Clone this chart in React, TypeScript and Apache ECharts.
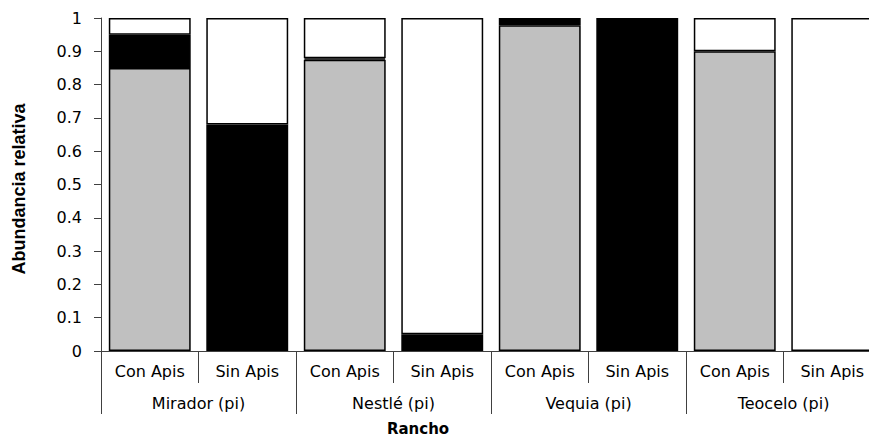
import React, { useEffect, useRef } from "react";
import * as echarts from "echarts";

const categories = [
  "Con Apis", "Sin Apis",
  "Con Apis", "Sin Apis",
  "Con Apis", "Sin Apis",
  "Con Apis", "Sin Apis",
];
const ranchos = ["Mirador (pi)", "Nestlé (pi)", "Vequia (pi)", "Teocelo (pi)"];

const grisValues = [0.85, 0, 0.875, 0, 0.978, 0, 0.9, 0];
const negroValues = [0.1, 0.68, 0.004, 0.05, 0.022, 1.0, 0, 0];
const blancoValues = [0.05, 0.32, 0.121, 0.95, 0, 0, 0.1, 1.0];

const yAxisTitle = "Abundancia relativa";
const xAxisTitle = "Rancho";

const noZero = (arr: number[]) => arr.map((v) => (v === 0 ? "-" : v));

export default function App() {
  const ref = useRef<HTMLDivElement>(null);

  useEffect(() => {
    if (!ref.current) return;
    const chart = echarts.init(ref.current, undefined, { renderer: "svg" });
    const axisColor = "#404040";
    const font = "DejaVu Sans";
    const barStyle = (color: string) => ({
      color,
      borderColor: "#000",
      borderWidth: 1.5,
    });
    chart.setOption({
      animation: false,
      backgroundColor: "#fff",
      grid: {
        left: 101,
        top: 18,
        width: 780,
        height: 333,
        containLabel: false,
        outerBoundsMode: "none",
      },
      xAxis: [
        {
          type: "category",
          data: categories,
          position: "bottom",
          axisLine: { show: true, lineStyle: { color: axisColor, width: 1 } },
          axisTick: { show: true, interval: 0, length: 32, lineStyle: { color: axisColor } },
          axisLabel: { interval: 0, margin: 12, fontSize: 16, color: "#000", fontFamily: font },
          splitLine: { show: false },
        },
        {
          type: "category",
          data: ranchos,
          position: "bottom",
          axisLine: { show: false },
          axisTick: { show: true, interval: 0, length: 63, lineStyle: { color: axisColor } },
          axisLabel: { interval: 0, margin: 44, fontSize: 16, color: "#000", fontFamily: font },
          splitLine: { show: false },
        },
      ],
      yAxis: {
        type: "value",
        min: 0,
        max: 1,
        interval: 0.1,
        splitLine: { show: false },
        axisLine: { show: true, lineStyle: { color: axisColor, width: 1 } },
        axisTick: { show: true, length: 7, lineStyle: { color: axisColor } },
        axisLabel: {
          margin: 19,
          fontSize: 16,
          color: "#000",
          fontFamily: font,
          formatter: (v: number) => String(+v.toFixed(1)),
        },
      },
      series: [
        {
          name: "gris",
          type: "bar",
          stack: "total",
          xAxisIndex: 0,
          barWidth: "84%",
          data: noZero(grisValues),
          itemStyle: barStyle("#C0C0C0"),
        },
        {
          name: "negro",
          type: "bar",
          stack: "total",
          xAxisIndex: 0,
          barWidth: "84%",
          data: noZero(negroValues),
          itemStyle: barStyle("#000000"),
        },
        {
          name: "blanco",
          type: "bar",
          stack: "total",
          xAxisIndex: 0,
          barWidth: "84%",
          data: noZero(blancoValues),
          itemStyle: barStyle("#FFFFFF"),
        },
      ],
      graphic: [
        {
          type: "text",
          x: 19,
          y: 189,
          rotation: Math.PI / 2,
          style: {
            text: yAxisTitle,
            font: "bold 18px 'Liberation Sans', Arial, sans-serif",
            fill: "#000",
            align: "center",
            verticalAlign: "middle",
          },
        },
        {
          type: "text",
          x: 418,
          y: 429,
          style: {
            text: xAxisTitle,
            font: "bold 15px 'DejaVu Sans', sans-serif",
            fill: "#000",
            align: "center",
            verticalAlign: "middle",
          },
        },
      ],
    });
    return () => chart.dispose();
  }, []);

  return (
    <div
      ref={ref}
      style={{ position: "fixed", left: 0, top: 0, width: 869, height: 438, overflow: "hidden", background: "#fff" }}
    />
  );
}
